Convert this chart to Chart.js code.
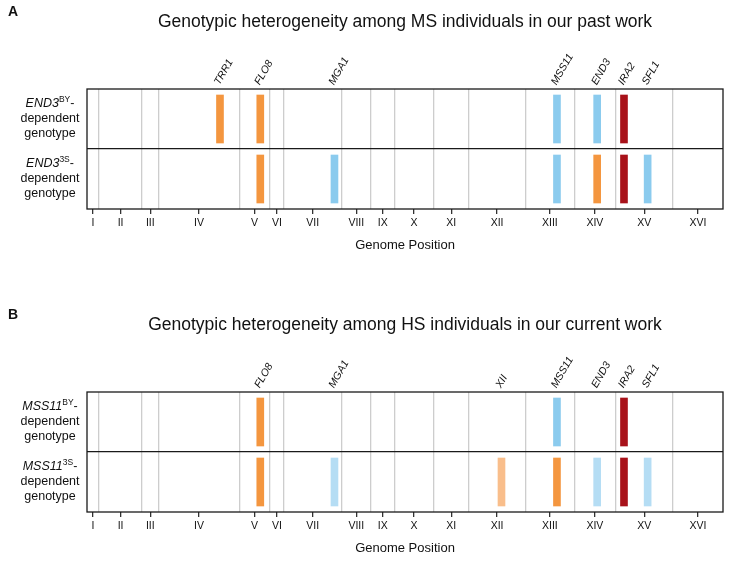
<!DOCTYPE html>
<html><head><meta charset="utf-8">
<script src="https://cdn.jsdelivr.net/npm/chart.js@4.4.0/dist/chart.umd.min.js"></script>
<style>
html,body{margin:0;padding:0;background:#fff;overflow:hidden;width:729px;height:561px}
.panel{position:absolute;left:0;width:729px}
canvas{display:block}
</style></head>
<body>
<div class="panel" style="top:0;height:303px"><canvas id="cA" width="729" height="303"></canvas></div>
<div class="panel" style="top:303px;height:258px"><canvas id="cB" width="729" height="258"></canvas></div>
<script>
// ---- data ----
const chromosomes = ['I','II','III','IV','V','VI','VII','VIII','IX','X','XI','XII','XIII','XIV','XV','XVI'];
const chromLengthKb = [230.2, 813.2, 316.6, 1531.9, 576.9, 270.2, 1090.9, 562.6, 439.9, 745.8, 666.8, 1078.2, 924.4, 784.3, 1091.3, 948.1];
const geneNames = ['TRR1','FLO8','MGA1','XII','MSS11','END3','IRA2','SFL1'];
const genePosKb = [2524, 3289, 4697, 7867, 8920, 9683, 10192, 10641];

const titleA = 'Genotypic heterogeneity among MS individuals in our past work';
const geneLabelsA = ['TRR1','FLO8','MGA1','MSS11','END3','IRA2','SFL1'];
const rowNamesA = [['END3','BY'],['END3','3S']];
const topGenesA = ['TRR1','FLO8','MSS11','END3','IRA2'];
const topColorsA = ['orange','orange','blue','blue','red'];
const bottomGenesA = ['FLO8','MGA1','MSS11','END3','IRA2','SFL1'];
const bottomColorsA = ['orange','blue','blue','orange','red','blue'];

const titleB = 'Genotypic heterogeneity among HS individuals in our current work';
const geneLabelsB = ['FLO8','MGA1','XII','MSS11','END3','IRA2','SFL1'];
const rowNamesB = [['MSS11','BY'],['MSS11','3S']];
const topGenesB = ['FLO8','MSS11','IRA2'];
const topColorsB = ['orange','blue','red'];
const bottomGenesB = ['FLO8','MGA1','XII','MSS11','END3','IRA2','SFL1'];
const bottomColorsB = ['orange','lightBlue','lightOrange','orange','lightBlue','red','lightBlue'];

// ---- style ----
const palette = {orange:'#F4963F', blue:'#8BCBEE', red:'#A8121A', lightOrange:'#F9BE8B', lightBlue:'#B5DDF4'};
const FAMILY = '"Liberation Sans", Arial, Helvetica, sans-serif';

// ---- derived ----
const boundaries = [];
chromLengthKb.reduce((acc, L) => { boundaries.push(acc + L); return acc + L; }, 0);
const genomeTotal = boundaries[boundaries.length - 1];
const centers = chromLengthKb.map((L, i) => boundaries[i] - L / 2);
const xTicks = [];
chromosomes.forEach((c, i) => {
  xTicks.push({value: centers[i], label: c, kind: 'c'});
  if (i < chromosomes.length - 1) xTicks.push({value: boundaries[i], label: '', kind: 'b'});
});
const posOf = g => genePosKb[geneNames.indexOf(g)];

function makePanel(id, canvasH, letter, title, geneLabels, rowNames, topGenes, topColors, bottomGenes, bottomColors) {
  const overlay = {
    id: 'overlay' + letter,
    afterDraw(chart) {
      const {ctx, chartArea: a, scales} = chart;
      ctx.save();
      ctx.strokeStyle = '#1a1a1a'; ctx.lineWidth = 1.3;
      ctx.strokeRect(a.left, a.top, a.right - a.left, a.bottom - a.top);
      ctx.fillStyle = '#111';
      ctx.font = 'italic 10.5px ' + FAMILY;
      ctx.textAlign = 'left'; ctx.textBaseline = 'middle';
      geneLabels.forEach(g => {
        const x = scales.x.getPixelForValue(posOf(g));
        ctx.save(); ctx.translate(x - 3, a.top - 5); ctx.rotate(-Math.PI / 3);
        ctx.fillText(g, 0, 0); ctx.restore();
      });
      rowNames.forEach((r, i) => {
        const yc = scales.y.getPixelForValue(i === 0 ? 1.5 : 0.5);
        const cx = 50;
        ctx.font = 'italic 12.5px ' + FAMILY; const w1 = ctx.measureText(r[0]).width;
        ctx.font = '8.5px ' + FAMILY; const w2 = ctx.measureText(r[1]).width;
        ctx.font = '12.5px ' + FAMILY; const w3 = ctx.measureText('-').width;
        let x0 = cx - (w1 + w2 + w3) / 2;
        ctx.textAlign = 'left'; ctx.textBaseline = 'middle';
        ctx.font = 'italic 12.5px ' + FAMILY; ctx.fillText(r[0], x0, yc - 15); x0 += w1;
        ctx.font = '8.5px ' + FAMILY; ctx.fillText(r[1], x0, yc - 19); x0 += w2;
        ctx.font = '12.5px ' + FAMILY; ctx.fillText('-', x0, yc - 15);
        ctx.textAlign = 'center';
        ctx.fillText('dependent', cx, yc);
        ctx.fillText('genotype', cx, yc + 15);
      });
      ctx.font = 'bold 14px ' + FAMILY; ctx.textAlign = 'left'; ctx.textBaseline = 'middle';
      ctx.fillText(letter, 8, 12);
      ctx.restore();
    }
  };
  const mk = (genes, colors, lo, hi) => ({
    data: genes.map(g => ({x: posOf(g), y: [lo, hi]})),
    backgroundColor: colors.map(c => palette[c]),
    borderWidth: 0, barThickness: 7, grouped: false
  });
  return new Chart(document.getElementById(id), {
    type: 'bar',
    data: {datasets: [mk(topGenes, topColors, 1.1, 1.9), mk(bottomGenes, bottomColors, 0.1, 0.9)]},
    options: {
      responsive: false, animation: false, events: [],
      layout: {padding: {left: 87, right: 6, top: 0, bottom: 0}},
      plugins: {
        legend: {display: false}, tooltip: {enabled: false},
        title: {display: true, text: title, color: '#111', font: {size: 17.5, weight: 'normal', family: FAMILY},
                padding: {top: 12, bottom: 56}}
      },
      scales: {
        x: {
          type: 'linear', min: 0, max: genomeTotal, position: 'bottom', offset: false,
          afterBuildTicks: s => { s.ticks = xTicks.map(t => ({value: t.value})); },
          afterFit: s => { s.height = canvasH - 209; },
          ticks: {autoSkip: false, maxRotation: 0, minRotation: 0, padding: 3, color: '#111',
                  font: {size: 10.5, family: FAMILY}, callback: (v, i) => xTicks[i] ? xTicks[i].label : ''},
          grid: {offset: false, lineWidth: 1.3, tickLength: 5, drawTicks: true,
                 color: c => (xTicks[c.index] && xTicks[c.index].kind === 'b') ? '#cdcdcd' : 'rgba(0,0,0,0)',
                 tickColor: c => (xTicks[c.index] && xTicks[c.index].kind === 'c') ? '#333' : 'rgba(0,0,0,0)'},
          border: {display: false},
          title: {display: true, text: 'Genome Position', color: '#111', font: {size: 13, family: FAMILY},
                  padding: {top: 0, bottom: canvasH - 245 - 7.8}}
        },
        y: {
          type: 'linear', min: 0, max: 2,
          afterBuildTicks: s => { s.ticks = [{value: 1}]; },
          afterFit: s => { s.width = 0; },
          ticks: {display: false},
          grid: {color: '#1a1a1a', lineWidth: 1.3, drawTicks: false},
          border: {display: false}
        }
      }
    },
    plugins: [overlay]
  });
}

makePanel('cA', 303, 'A', titleA, geneLabelsA, rowNamesA, topGenesA, topColorsA, bottomGenesA, bottomColorsA);
makePanel('cB', 258, 'B', titleB, geneLabelsB, rowNamesB, topGenesB, topColorsB, bottomGenesB, bottomColorsB);
</script>
</body></html>
